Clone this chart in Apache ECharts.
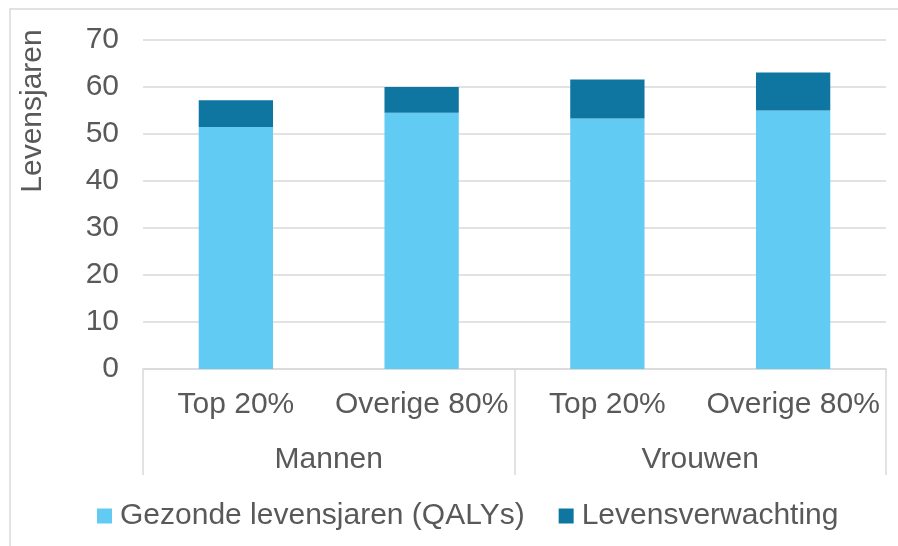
<!DOCTYPE html>
<html>
<head>
<meta charset="utf-8">
<script src="https://cdn.jsdelivr.net/npm/echarts@6/dist/echarts.min.js"></script>
<style>
  html, body { margin: 0; padding: 0; background: #fff; }
  #chart { width: 898px; height: 546px; }
</style>
</head>
<body>
<div id="chart"></div>
<script>
// categories (inner level + outer group level)
var subCats = ['Top 20%', 'Overige 80%', 'Top 20%', 'Overige 80%'];
var groups = ['Mannen', 'Vrouwen'];
// stacked values (years)
var qalys = [51.5, 54.5, 53.3, 55.0];
var extraLife = [5.7, 5.5, 8.3, 8.1];
var yTicks = { min: 0, max: 70, interval: 10 };

var txt = '#595959';
var font = 'Liberation Sans';
var fs = 30;

var myChart = echarts.init(document.getElementById('chart'));
var option = {
  animation: false,
  textStyle: { fontFamily: font },
  grid: { left: 143, right: 12, top: 40, bottom: 177, containLabel: false },
  legend: {
    top: 496,
    left: 92,
    itemWidth: 15,
    itemHeight: 15,
    itemGap: 34,
    icon: 'rect',
    textStyle: { color: txt, fontSize: fs, fontFamily: font, padding: [0, 0, 0, 3] },
    data: ['Gezonde levensjaren (QALYs)', 'Levensverwachting']
  },
  xAxis: [
    {
      type: 'category',
      data: subCats,
      position: 'bottom',
      axisLine: { lineStyle: { color: '#d9d9d9', width: 1.5 } },
      axisTick: { show: false },
      axisLabel: { color: txt, fontSize: fs, fontFamily: font, margin: 21, interval: 0 }
    },
    {
      type: 'category',
      data: groups,
      position: 'bottom',
      axisLine: { show: false },
      axisTick: { show: true, length: 106, lineStyle: { color: '#d9d9d9', width: 1.5 } },
      axisLabel: { color: txt, fontSize: fs, fontFamily: font, margin: 76, interval: 0 },
      splitLine: { show: false }
    }
  ],
  yAxis: {
    type: 'value',
    min: yTicks.min,
    max: yTicks.max,
    interval: yTicks.interval,
    axisLine: { show: false },
    axisTick: { show: false },
    axisLabel: { color: txt, fontSize: fs, fontFamily: font, margin: 24 },
    splitLine: { lineStyle: { color: '#d9d9d9', width: 1.5 } }
  },
  graphic: [
    {
      type: 'text',
      x: 33,
      y: 111,
      rotation: Math.PI / 2,
      style: {
        text: 'Levensjaren',
        fill: txt,
        font: fs + 'px "' + font + '"',
        textAlign: 'center',
        textVerticalAlign: 'middle'
      }
    },
    {
      type: 'polyline',
      shape: { points: [[10, 546], [10, 9], [898, 9]] },
      style: { stroke: '#d9d9d9', lineWidth: 1.5, fill: null }
    }
  ],
  series: [
    {
      name: 'Gezonde levensjaren (QALYs)',
      type: 'bar',
      stack: 'tot',
      xAxisIndex: 0,
      barWidth: '40%',
      itemStyle: { color: '#61cbf3' },
      data: qalys
    },
    {
      name: 'Levensverwachting',
      type: 'bar',
      stack: 'tot',
      xAxisIndex: 0,
      barWidth: '40%',
      itemStyle: { color: '#0e76a0' },
      data: extraLife
    }
  ]
};
myChart.setOption(option);
</script>
</body>
</html>
